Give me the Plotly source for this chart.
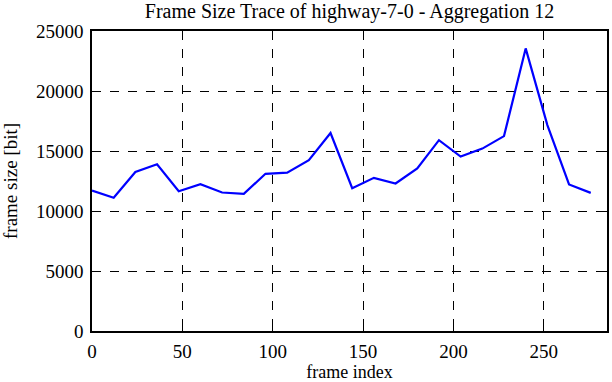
import plotly.graph_objects as go

frame_index = [0, 12, 24, 36, 48, 60, 72, 84, 96, 108, 120, 132,
               144, 156, 168, 180, 192, 204, 216, 228, 240, 252, 264, 276]
frame_size = [11700, 11100, 13250, 13900, 11650, 12230, 11540, 11430, 13100, 13200, 14240, 16500,
              11900, 12760, 12290, 13540, 15900, 14540, 15200, 16240, 23550, 17160, 12210, 11510]

x_ticks = [0, 50, 100, 150, 200, 250]
y_ticks = [0, 5000, 10000, 15000, 20000, 25000]

font = "Liberation Serif, Times New Roman, serif"

fig = go.Figure()
fig.add_trace(go.Scatter(x=frame_index, y=frame_size, mode="lines",
                         line=dict(color="#0000ff", width=2.2), showlegend=False))

axis_common = dict(
    showline=True, linecolor="black", linewidth=1.6, mirror="ticks",
    ticks="inside", ticklen=6, tickwidth=1.2, tickcolor="black",
    showgrid=True, gridcolor="black", gridwidth=1, griddash="dash",
    zeroline=False, tickfont=dict(family=font, size=19, color="black"),
)

fig.update_xaxes(range=[0, 285], tickvals=x_ticks, ticktext=[str(v) for v in x_ticks],
                 ticklabelstandoff=2,
                 title=dict(text="frame index", font=dict(family=font, size=18, color="black"), standoff=0),
                 **axis_common)
fig.update_yaxes(range=[0, 25000], tickvals=y_ticks, ticktext=[str(v) for v in y_ticks],
                 ticklabelstandoff=3,
                 title=dict(text="frame size [bit]", font=dict(family=font, size=19, color="black"), standoff=14),
                 **axis_common)

fig.update_layout(
    width=612, height=382,
    font=dict(family=font, size=19, color="black"),
    margin=dict(l=92, r=3, t=31, b=51),
    paper_bgcolor="white", plot_bgcolor="white",
    title=dict(text="Frame Size Trace of highway-7-0 - Aggregation 12",
               font=dict(family=font, size=20, color="black"),
               x=0.5, xanchor="center", xref="paper",
               y=1 - 11 / 382, yanchor="middle", yref="container"),
)

fig.write_html("out.html", config={"displayModeBar": False},
               post_script="document.body.style.margin='0';document.body.style.overflow='hidden';")
